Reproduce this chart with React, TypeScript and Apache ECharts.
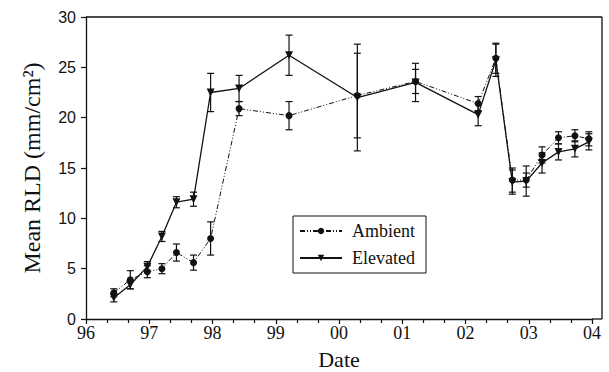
import React, { useEffect, useRef } from "react";
import * as echarts from "echarts";

const dates = [96.44, 96.70, 96.97, 97.20, 97.43, 97.70, 97.97, 98.42, 99.21, 100.29, 101.21, 102.20, 102.48, 102.74, 102.96, 103.21, 103.47, 103.73, 103.95];
const ambient = [2.6, 3.9, 4.7, 5.0, 6.6, 5.6, 8.0, 20.9, 20.2, 22.2, 23.6, 21.4, 25.9, 13.8, 13.8, 16.3, 18.0, 18.2, 17.9];
const ambientErr = [0.4, 0.9, 0.6, 0.5, 0.85, 0.75, 1.65, 0.7, 1.4, 4.2, 1.2, 0.7, 1.5, 1.2, 0.7, 0.8, 0.6, 0.6, 0.7];
const elevated = [2.1, 3.4, 5.2, 8.2, 11.6, 11.9, 22.5, 22.9, 26.2, 22.0, 23.5, 20.3, 25.7, 13.6, 13.7, 15.5, 16.6, 16.9, 17.6];
const elevatedErr = [0.4, 0.4, 0.5, 0.5, 0.55, 0.7, 1.9, 1.3, 2.0, 5.3, 1.9, 1.1, 1.6, 1.2, 1.5, 1.0, 0.8, 0.8, 0.8];
const seriesNames = ["Ambient", "Elevated"];

const INK = "#111";

function errorRender(params: any, api: any) {
  const x = api.value(0);
  const y = api.value(1);
  const e = api.value(2);
  const hi = api.coord([x, y + e]);
  const lo = api.coord([x, y - e]);
  const w = 3.5;
  const st = { stroke: INK, lineWidth: 1.2 };
  return {
    type: "group",
    children: [
      { type: "line", shape: { x1: hi[0], y1: hi[1], x2: lo[0], y2: lo[1] }, style: st },
      { type: "line", shape: { x1: hi[0] - w, y1: hi[1], x2: hi[0] + w, y2: hi[1] }, style: st },
      { type: "line", shape: { x1: lo[0] - w, y1: lo[1], x2: lo[0] + w, y2: lo[1] }, style: st },
    ],
  };
}

export default function App() {
  const ref = useRef<HTMLDivElement>(null);
  useEffect(() => {
    if (!ref.current) return;
    const chart = echarts.init(ref.current, null, { renderer: "svg" });
    const left = 86, right = 17, top = 17, bottom = 53;
    const W = 609, H = 372;
    const x0 = left, x1 = W - right, yT = top, yB = H - bottom;
    const boxRight = 602;
    chart.setOption({
      animation: false,
      backgroundColor: "#fff",
      grid: { left, right, top, bottom, containLabel: false, outerBoundsMode: "none" },
      legend: {
        orient: "vertical",
        left: 293,
        top: 216,
        data: seriesNames,
        itemWidth: 42,
        itemHeight: 8,
        itemGap: 7,
        padding: [5, 11, 5, 6],
        borderColor: INK,
        borderWidth: 1,
        selectedMode: false,
        textStyle: { fontFamily: "Liberation Serif", fontSize: 18, color: INK, lineHeight: 20, padding: [0, 0, 0, 5] },
      },
      xAxis: {
        type: "value",
        min: 96,
        max: 104,
        interval: 1,
        name: "Date",
        nameLocation: "middle",
        nameGap: 28,
        nameTextStyle: { fontFamily: "Liberation Serif", fontSize: 22, color: INK, lineHeight: 24 },
        axisLine: { lineStyle: { color: INK, width: 1.3 } },
        axisTick: { show: true, inside: false, length: 5, lineStyle: { color: INK, width: 1.2 } },
        minorTick: { show: true, splitNumber: 3, length: 4, lineStyle: { color: INK, width: 1.2 } },
        splitLine: { show: false },
        axisLabel: {
          fontFamily: "Liberation Serif",
          fontSize: 18,
          color: INK,
          margin: 5,
          formatter: (v: number) => String(Math.round(v) % 100).padStart(2, "0"),
        },
      },
      yAxis: {
        type: "value",
        min: 0,
        max: 30,
        interval: 5,
        name: "Mean RLD (mm/cm²)",
        nameLocation: "middle",
        nameGap: 42,
        nameTextStyle: { fontFamily: "Liberation Serif", fontSize: 24, color: INK },
        axisLine: { show: true, lineStyle: { color: INK, width: 1.3 } },
        axisTick: { show: true, inside: false, length: 5, lineStyle: { color: INK, width: 1.2 } },
        splitLine: { show: false },
        axisLabel: { fontFamily: "Liberation Sans", fontSize: 16, color: INK, margin: 10 },
      },
      graphic: [
        { type: "line", shape: { x1: x0, y1: yT, x2: boxRight, y2: yT }, style: { stroke: INK, lineWidth: 1.3 } },
        { type: "line", shape: { x1: boxRight, y1: yT, x2: boxRight, y2: yB }, style: { stroke: INK, lineWidth: 1.3 } },
        { type: "line", shape: { x1: x1, y1: yB, x2: boxRight, y2: yB }, style: { stroke: INK, lineWidth: 1.3 } },
      ],
      series: [
        {
          name: "Ambient",
          type: "line",
          data: dates.map((d, i) => [d, ambient[i]]),
          symbol: "circle",
          symbolSize: 7,
          itemStyle: { color: INK },
          lineStyle: { color: INK, width: 1, type: [5, 2, 1, 2, 1, 2] },
          z: 3,
        },
        {
          name: "Elevated",
          type: "line",
          data: dates.map((d, i) => [d, elevated[i]]),
          symbol: "triangle",
          symbolRotate: 180,
          symbolSize: 8,
          itemStyle: { color: INK },
          lineStyle: { color: INK, width: 1.3, type: "solid" },
          z: 3,
        },
        {
          name: "AmbientErr",
          type: "custom",
          data: dates.map((d, i) => [d, ambient[i], ambientErr[i]]),
          encode: { x: 0, y: 1 },
          renderItem: errorRender,
          z: 2,
        },
        {
          name: "ElevatedErr",
          type: "custom",
          data: dates.map((d, i) => [d, elevated[i], elevatedErr[i]]),
          encode: { x: 0, y: 1 },
          renderItem: errorRender,
          z: 2,
        },
      ],
    });
    return () => chart.dispose();
  }, []);
  return <div ref={ref} style={{ position: "fixed", left: 0, top: 0, width: 609, height: 372 }} />;
}
